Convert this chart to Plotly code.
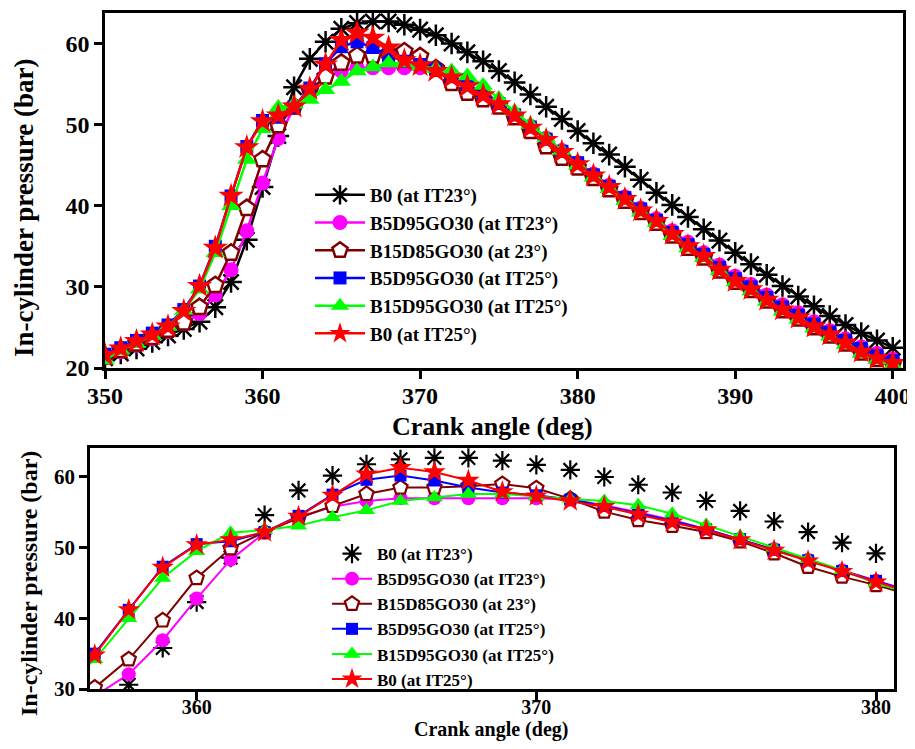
import plotly.graph_objects as go

crank_angle = list(range(350, 401))

b0_it23 = [21.2, 21.8, 22.4, 23.2, 24.0, 24.8, 25.7, 27.5, 30.6, 35.8,
           42.3, 48.6, 54.6, 58.1, 60.2, 61.8, 62.5, 62.7, 62.7, 62.3,
           61.7, 61.0, 60.0, 58.9, 57.8, 56.6, 55.2, 53.7, 52.2, 50.7,
           49.2, 47.7, 46.3, 44.8, 43.2, 41.6, 40.1, 38.6, 37.1, 35.7,
           34.2, 32.8, 31.5, 30.1, 28.8, 27.6, 26.4, 25.3, 24.3, 23.4, 22.5]

b5d95go30_it23 = [21.3, 22.0, 22.8, 23.6, 24.5, 25.5, 26.7, 29.0, 32.1, 36.9,
                  42.8, 48.3, 52.1, 54.3, 55.8, 56.6, 57.0, 57.0, 57.0, 57.0,
                  57.0, 56.8, 56.0, 55.0, 53.9, 52.6, 51.2, 49.8, 48.3, 46.8,
                  45.3, 43.9, 42.5, 41.1, 39.7, 38.4, 36.9, 35.5, 34.2, 32.7,
                  31.3, 30.3, 29.0, 27.8, 26.8, 25.7, 24.6, 23.6, 22.6, 21.8, 21.1]

b15d85go30_23 = [21.4, 22.2, 23.0, 23.8, 24.7, 25.6, 27.5, 30.2, 34.2, 39.7,
                 45.7, 49.9, 52.2, 54.2, 55.9, 57.6, 58.5, 58.5, 58.7, 59.0,
                 58.4, 56.9, 55.1, 53.9, 53.1, 52.2, 50.9, 49.2, 47.3, 45.9,
                 44.7, 43.4, 42.0, 40.6, 39.2, 37.9, 36.3, 34.8, 33.6, 32.0,
                 30.6, 29.6, 28.3, 27.1, 26.1, 25.0, 24.0, 23.0, 21.9, 21.1, 20.5]

b5d95go30_it25 = [21.7, 22.5, 23.4, 24.3, 25.3, 27.2, 30.1, 35.0, 41.2, 47.3,
                  50.5, 50.9, 52.2, 54.5, 57.5, 59.6, 60.2, 59.5, 58.5, 57.8,
                  57.4, 56.8, 55.9, 54.9, 53.8, 52.6, 51.2, 49.7, 48.2, 46.7,
                  45.3, 43.8, 42.4, 41.0, 39.6, 38.2, 36.7, 35.2, 34.0, 32.4,
                  31.0, 30.0, 28.7, 27.5, 26.5, 25.4, 24.4, 23.4, 22.4, 21.5, 20.9]

b15d95go30_it25 = [21.0, 22.2, 23.0, 24.0, 25.1, 27.1, 29.7, 34.2, 40.0, 45.7,
                   49.5, 52.1, 52.5, 53.1, 54.3, 55.3, 56.6, 57.1, 57.6, 57.6,
                   57.2, 56.9, 56.6, 56.0, 54.8, 53.2, 51.6, 50.0, 48.4, 46.8,
                   45.0, 43.5, 42.1, 40.6, 39.2, 37.9, 36.3, 34.8, 33.6, 32.0,
                   30.6, 29.5, 28.2, 27.0, 26.0, 24.9, 23.9, 22.9, 21.8, 21.0, 20.4]

b0_it25 = [21.6, 22.4, 23.3, 24.1, 25.1, 27.0, 30.1, 34.8, 41.2, 47.2,
           50.4, 51.1, 52.2, 54.4, 57.4, 60.4, 61.3, 60.7, 59.5, 57.9,
           57.3, 56.6, 55.8, 54.7, 53.6, 52.5, 51.1, 49.6, 48.1, 46.6,
           45.1, 43.7, 42.3, 40.8, 39.4, 38.1, 36.5, 35.0, 33.8, 32.1,
           30.7, 29.7, 28.4, 27.2, 26.2, 25.1, 24.1, 23.1, 22.0, 21.2, 20.6]

series_names = ["B0 (at IT23°)", "B5D95GO30 (at IT23°)", "B15D85GO30 (at 23°)",
                "B5D95GO30 (at IT25°)", "B15D95GO30 (at IT25°)", "B0 (at IT25°)"]
series_values = [b0_it23, b5d95go30_it23, b15d85go30_23,
                 b5d95go30_it25, b15d95go30_it25, b0_it25]

top_x_ticks = [350, 360, 370, 380, 390, 400]
top_y_ticks = [20, 30, 40, 50, 60]
bottom_x_ticks = [360, 370, 380]
bottom_y_ticks = [30, 40, 50, 60]

colors = ["#000000", "#FF00FF", "#800000", "#0000FF", "#00FF00", "#FF0000"]
symbols = ["asterisk-open", "circle", "pentagon", "square", "triangle-up", "star"]
fills = ["#000000", "#FF00FF", "#FFFFFF", "#0000FF", "#00FF00", "#FF0000"]
top_sizes = [18, 15, 17, 13, 17, 19]
bot_sizes = [16, 14, 15, 12, 15, 17]

# page body has an 8px margin: figure is placed at (8, 8)
OFF = 8
W, H = 915 - OFF, 749 - 2 * OFF


def px(v):
    return (v - OFF) / W


def py(v):
    return 1 - (v - OFF) / H


fig = go.Figure()

for i, (name, vals) in enumerate(zip(series_names, series_values)):
    fig.add_trace(go.Scatter(
        x=crank_angle, y=vals, name=name, mode="lines+markers",
        line=dict(color=colors[i], width=2.5),
        marker=dict(symbol=symbols[i], size=top_sizes[i], color=fills[i],
                    line=dict(color=colors[i], width=2.5 if i in (0, 2) else 0)),
        xaxis="x", yaxis="y", legend="legend"))

for i, (name, vals) in enumerate(zip(series_names, series_values)):
    fig.add_trace(go.Scatter(
        x=crank_angle, y=vals, name=name,
        mode="markers" if i == 0 else "lines+markers",
        line=dict(color=colors[i], width=2),
        marker=dict(symbol=symbols[i], size=bot_sizes[i], color=fills[i],
                    line=dict(color=colors[i], width=2.2 if i in (0, 2) else 0)),
        xaxis="x2", yaxis="y2", legend="legend2"))

font_family = "Liberation Serif, DejaVu Serif, serif"
axis_common = dict(showline=True, linecolor="black", linewidth=2.5, mirror=True,
                   ticks="outside", ticklen=8, tickwidth=2.5, tickcolor="black",
                   showgrid=False, zeroline=False, automargin=False)

fig.update_layout(
    width=W, height=H, margin=dict(l=0, r=0, t=0, b=0),
    paper_bgcolor="white", plot_bgcolor="white",
    font=dict(family=font_family, color="black"),
    xaxis=dict(domain=[px(105), px(903)], range=[350, 400.65],
               tickvals=top_x_ticks, anchor="y", ticklabelstandoff=-4,
               tickfont=dict(size=24, family=font_family, weight="bold"),
               **axis_common),
    yaxis=dict(domain=[py(368), py(13)], range=[20, 63.75],
               tickvals=top_y_ticks, anchor="x",
               tickfont=dict(size=24, family=font_family, weight="bold"),
               **axis_common),
    xaxis2=dict(domain=[px(90), px(894)], range=[356.86, 380.53],
                tickvals=bottom_x_ticks, anchor="y2", ticklabelstandoff=-10,
                tickfont=dict(size=20, family=font_family, weight="bold"),
                **axis_common),
    yaxis2=dict(domain=[py(689), py(448)], range=[30, 64.1],
                tickvals=bottom_y_ticks, anchor="x2",
                tickfont=dict(size=21, family=font_family, weight="bold"),
                **axis_common),
    legend=dict(x=px(310), y=py(176), xanchor="left", yanchor="top",
                bgcolor="rgba(0,0,0,0)", itemwidth=50, tracegroupgap=0,
                font=dict(size=19, family=font_family, weight="bold")),
    legend2=dict(x=px(327), y=py(536), xanchor="left", yanchor="top",
                 bgcolor="rgba(0,0,0,0)", itemwidth=40, tracegroupgap=0,
                 font=dict(size=17, family=font_family, weight="bold")),
    annotations=[
        dict(text="Crank angle (deg)", xref="paper", yref="paper",
             x=px(492), y=py(426), xanchor="center", yanchor="middle",
             showarrow=False,
             font=dict(size=26, family=font_family, weight="bold")),
        dict(text="In-cylinder pressure (bar)", xref="paper", yref="paper",
             x=px(24), y=py(208), xanchor="center", yanchor="middle",
             showarrow=False, textangle=-90,
             font=dict(size=27, family=font_family, weight="bold")),
        dict(text="Crank angle (deg)", xref="paper", yref="paper",
             x=px(491), y=py(729), xanchor="center", yanchor="middle",
             showarrow=False,
             font=dict(size=20, family=font_family, weight="bold")),
        dict(text="In-cylinder pressure (bar)", xref="paper", yref="paper",
             x=px(29), y=py(584), xanchor="center", yanchor="middle",
             showarrow=False, textangle=-90,
             font=dict(size=24, family=font_family, weight="bold")),
    ],
)

fig.write_html("out.html")
